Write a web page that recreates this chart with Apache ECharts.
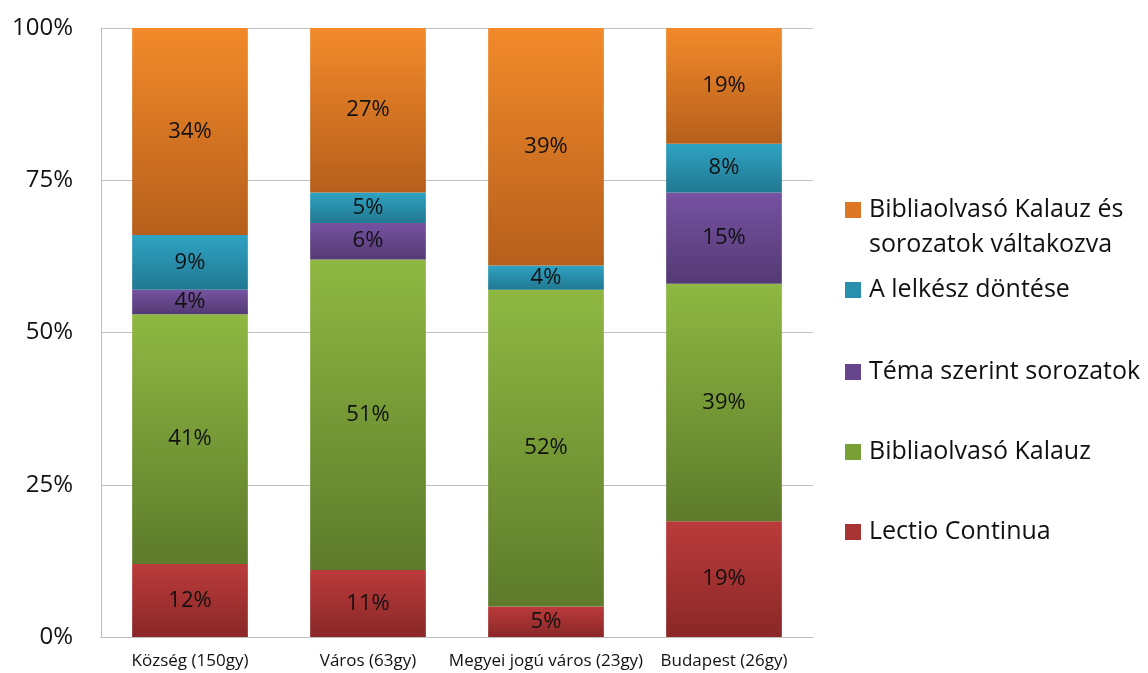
<!DOCTYPE html>
<html>
<head>
<meta charset="utf-8">
<script src="https://cdn.jsdelivr.net/npm/echarts@6/dist/echarts.min.js"></script>
<style>
  html, body { margin: 0; padding: 0; background: #ffffff; }
  #chart { width: 1148px; height: 673px; }
</style>
</head>
<body>
<div id="chart"></div>
<script>
// ---- data ----
const categories = ['Község (150gy)', 'Város (63gy)', 'Megyei jogú város (23gy)', 'Budapest (26gy)'];
const seriesNames = [
  'Lectio Continua',
  'Bibliaolvasó Kalauz',
  'Téma szerint sorozatok',
  'A lelkész döntése',
  'Bibliaolvasó Kalauz és sorozatok váltakozva'
];
const lectioContinua = [12, 11, 5, 19];
const bibliaolvasoKalauz = [41, 51, 52, 39];
const temaSzerint = [4, 6, 0, 15];
const lelkeszDontese = [9, 5, 4, 8];
const valtakozva = [34, 27, 39, 19];
const yTickLabels = ['0%', '25%', '50%', '75%', '100%'];

const seriesValues = [lectioContinua, bibliaolvasoKalauz, temaSzerint, lelkeszDontese, valtakozva];
const gradients = [
  ['#bb3b3b', '#8a2727'],
  ['#8fb842', '#5d7b2b'],
  ['#7652a2', '#543a74'],
  ['#2fa3c3', '#217891'],
  ['#f28a2a', '#b65f1c']
];
const legendColors = ['#a83333', '#78a037', '#65468c', '#2890ad', '#de7723'];

const FONT = '"Open Sans", Lato, sans-serif';

const chart = echarts.init(document.getElementById('chart'), null, { renderer: 'canvas' });

const series = seriesNames.map((name, i) => ({
  name: name,
  type: 'bar',
  stack: 'total',
  barWidth: '65%',
  data: seriesValues[i],
  itemStyle: {
    color: new echarts.graphic.LinearGradient(0, 0, 0, 1, [
      { offset: 0, color: gradients[i][0] },
      { offset: 1, color: gradients[i][1] }
    ])
  },
  label: {
    show: true,
    position: 'inside',
    color: '#111',
    fontFamily: FONT,
    fontSize: 22,
    formatter: p => (p.value > 0 ? p.value + '%' : '')
  },
  emphasis: { disabled: true },
  animation: false
}));

// legends, one component per item to control vertical positions
const legendCenters = [210, 290, 372, 452, 532];
const legendOrder = [4, 3, 2, 1, 0];
const legends = legendOrder.map((si, k) => {
  const first = k === 0;
  return {
    orient: 'vertical',
    left: 845,
    top: first ? legendCenters[k] - 52.5 : legendCenters[k] - 15,
    padding: 0,
    itemWidth: 16,
    itemHeight: 16,
    selectedMode: false,
    data: [{ name: seriesNames[si], icon: 'rect', itemStyle: { color: legendColors[si] } }],
    formatter: first ? () => ' \nBibliaolvasó Kalauz és\nsorozatok váltakozva' : undefined,
    textStyle: {
      fontFamily: FONT,
      fontSize: 25,
      color: '#111',
      lineHeight: first ? 35 : 30,
      padding: [0, 0, 0, 3]
    }
  };
});

chart.setOption({
  animation: false,
  backgroundColor: '#ffffff',
  grid: { left: 101, right: 335, top: 28, bottom: 36, containLabel: false },
  legend: legends,
  xAxis: {
    type: 'category',
    data: categories,
    axisLine: { show: true, lineStyle: { color: '#bfbfbf', width: 1 } },
    axisTick: { show: false },
    axisLabel: { color: '#111', fontFamily: FONT, fontSize: 17, margin: 16, interval: 0 }
  },
  yAxis: {
    type: 'value',
    min: 0,
    max: 100,
    interval: 25,
    axisLine: { show: true, lineStyle: { color: '#bfbfbf', width: 1 } },
    axisTick: { show: false },
    splitLine: { show: true, lineStyle: { color: '#bfbfbf', width: 1 } },
    axisLabel: {
      color: '#111',
      fontFamily: FONT,
      fontSize: 24,
      margin: 28,
      formatter: v => yTickLabels[Math.round(v / 25)]
    }
  },
  series: series
});
</script>
</body>
</html>
